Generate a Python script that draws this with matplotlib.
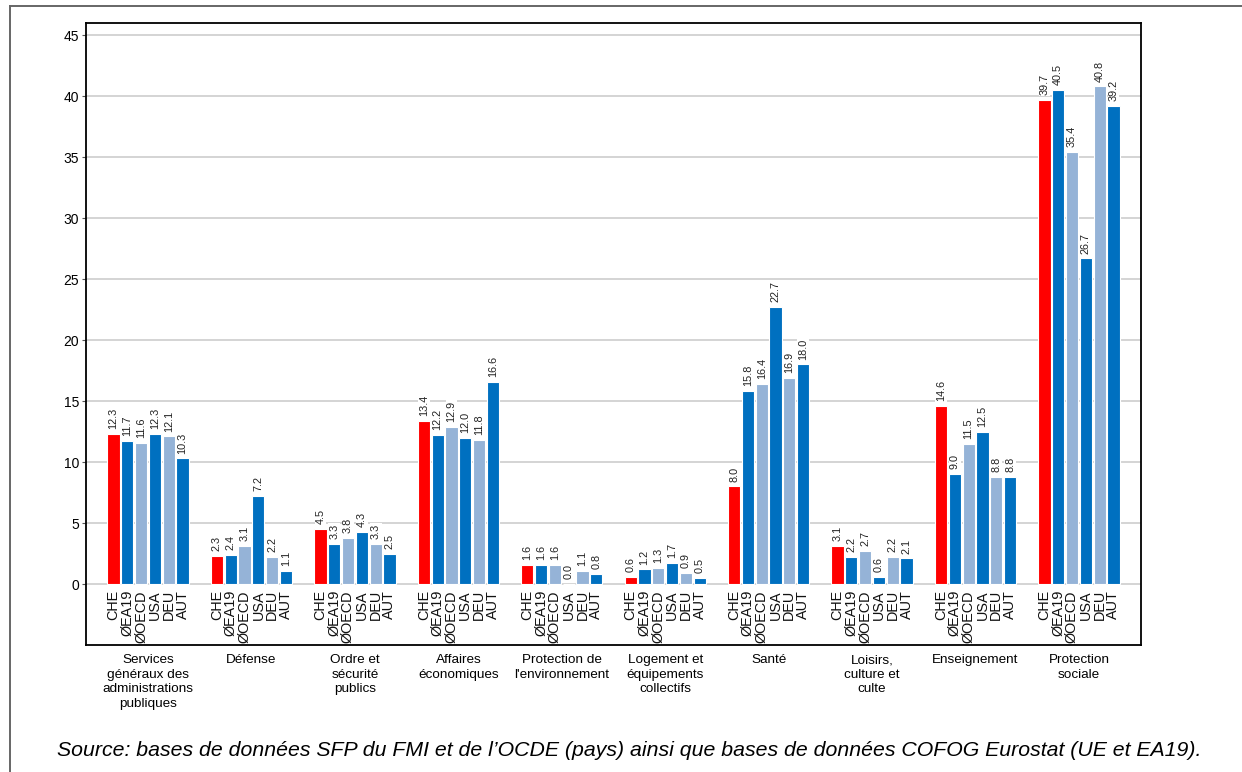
import matplotlib.pyplot as plt
import numpy as np

# Data
categories = ["Services\ngénéraux des\nadministrations\npubliques", "Défense",
              "Ordre et\nsécurité\npublics", "Affaires\néconomiques",
              "Protection de\nl'environnement", "Logement et\néquipements\ncollectifs",
              "Santé", "Loisirs,\nculture et\nculte", "Enseignement", "Protection\nsociale"]
countries = ["CHE", "ØEA19", "ØOECD", "USA", "DEU", "AUT"]
che = [12.3, 2.3, 4.5, 13.4, 1.6, 0.6, 8.0, 3.1, 14.6, 39.7]
ea19 = [11.7, 2.4, 3.3, 12.2, 1.6, 1.2, 15.8, 2.2, 9.0, 40.5]
oecd = [11.6, 3.1, 3.8, 12.9, 1.6, 1.3, 16.4, 2.7, 11.5, 35.4]
usa = [12.3, 7.2, 4.3, 12.0, 0.0, 1.7, 22.7, 0.6, 12.5, 26.7]
deu = [12.1, 2.2, 3.3, 11.8, 1.1, 0.9, 16.9, 2.2, 8.8, 40.8]
aut = [10.3, 1.1, 2.5, 16.6, 0.8, 0.5, 18.0, 2.1, 8.8, 39.2]
series = [che, ea19, oecd, usa, deu, aut]

colors = ['#ff0000', '#0070c0', '#95b3d7', '#0070c0', '#95b3d7', '#0070c0']

plt.rcParams['font.family'] = ['Liberation Sans', 'DejaVu Sans']

fig = plt.figure(figsize=(12.42, 7.72), dpi=100)
ax = fig.add_axes([86 / 1242, 1 - 645 / 772, (1141 - 86) / 1242, (645 - 23) / 772])

x = np.arange(len(categories))
pitch = 0.1335
width = 0.118

for i, vals in enumerate(series):
    pos = x + (i - 2.5) * pitch
    ax.bar(pos, vals, width=width, color=colors[i], edgecolor='white',
           linewidth=0.8, zorder=3)
    for p, v in zip(pos, vals):
        ax.text(p, v + 0.4, f"{v:.1f}", rotation=90, ha='center', va='bottom',
                fontsize=7.8, color='#222222', zorder=4,
                bbox=dict(facecolor='white', edgecolor='none', pad=0.6))
        ax.text(p, -0.5, countries[i], rotation=90, ha='center', va='top',
                fontsize=10.4, color='#111111', zorder=4)

ax.set_xlim(-0.6, 9.6)
ax.set_ylim(-5, 46)
ax.set_yticks(np.arange(0, 46, 5))
ax.set_yticklabels([str(t) for t in range(0, 46, 5)], fontsize=10)
ax.tick_params(axis='y', length=3, width=0.8, color='#555555', pad=2)
for t in range(0, 46, 5):
    ax.axhline(t, color='#d4d4d4', linewidth=1.4, zorder=1)

ax.set_xticks(x)
ax.set_xticklabels(categories, fontsize=9.7, linespacing=1.3, va='top')
ax.tick_params(axis='x', length=0, pad=6.5)

for s in ax.spines.values():
    s.set_linewidth(1.3)
    s.set_color('black')

# Source note
fig.text(0.5 + 8 / 1242, 1 - 750 / 772, "Source: bases de données SFP du FMI et de l\u2019OCDE (pays) ainsi que "
         "bases de données COFOG Eurostat (UE et EA19).", ha='center', va='center',
         fontsize=15.3, style='italic', color='black')

# outer frame lines
fig.add_artist(plt.Line2D([10 / 1242, 1], [1 - 6 / 772, 1 - 6 / 772], color='#666666', linewidth=1.4))
fig.add_artist(plt.Line2D([10 / 1242, 10 / 1242], [0, 1 - 6 / 772], color='#666666', linewidth=1.4))

plt.savefig("out.png", dpi=100)
